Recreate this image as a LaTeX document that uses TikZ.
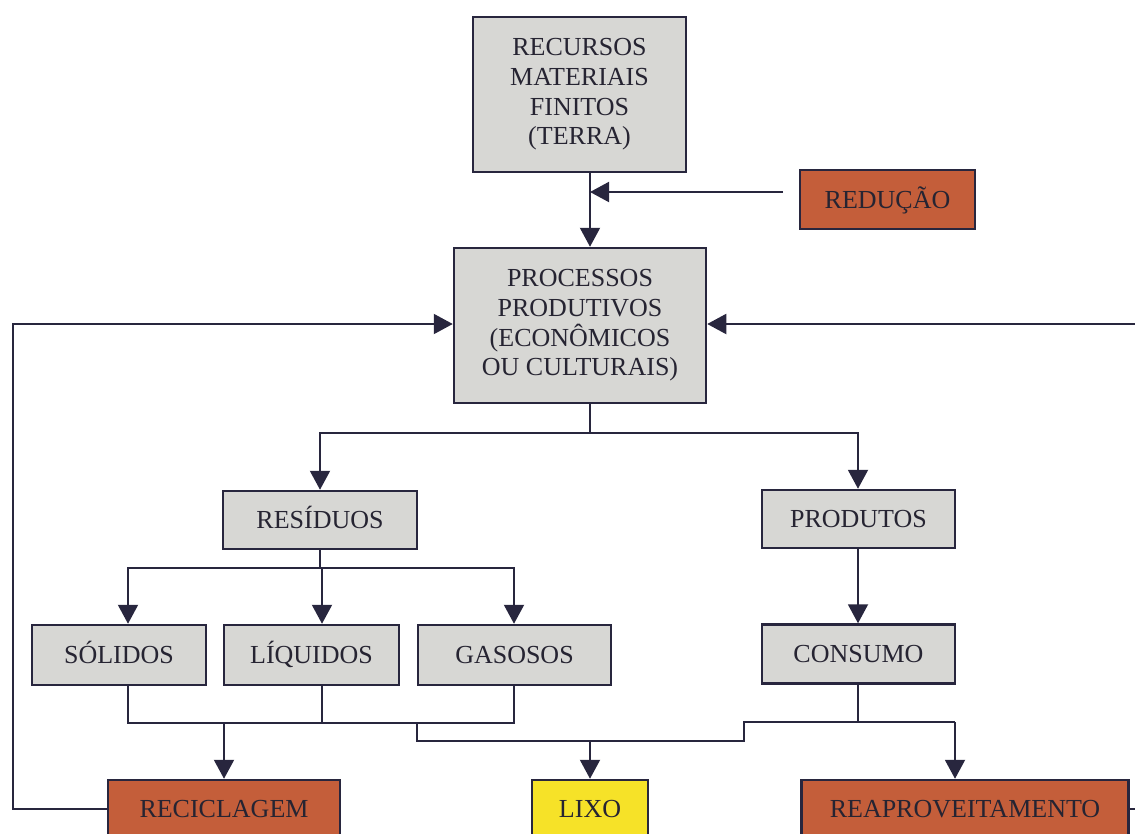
\documentclass[tikz,border=0pt]{standalone}
\usepackage{fontspec}
\setmainfont{Liberation Serif}
\usetikzlibrary{arrows.meta,calc}
\definecolor{boxgray}{RGB}{215,215,212}
\definecolor{boxorange}{RGB}{196,94,58}
\definecolor{boxyellow}{RGB}{246,226,40}
\definecolor{linecol}{RGB}{40,38,62}
\definecolor{txtcol}{RGB}{38,36,50}
\tikzset{
  base/.style={draw=linecol, line width=2.5pt, inner sep=0pt, align=center, text=txtcol, font=\fontsize{26}{30}\selectfont},
  oneline/.style={text height=20pt, text depth=3pt},
  graybox/.style={base, fill=boxgray, oneline},
  bigbox/.style={base, fill=boxgray, font=\fontsize{26}{29.7}\selectfont},
  orangebox/.style={base, fill=boxorange, oneline},
  yellowbox/.style={base, fill=boxyellow, oneline},
  conn/.style={draw=linecol, line width=2pt},
  arr/.style={conn, -{Triangle[length=19pt,width=20pt]}},
}
\begin{document}
\begin{tikzpicture}[x=1pt,y=-1pt]
\useasboundingbox (0,0) rectangle (1135,833);
\clip (0,0) rectangle (1135,833);
% boxes
\node[bigbox, minimum width=213pt, minimum height=155pt] (rec) at (579.5,94.5) {RECURSOS\\MATERIAIS\\FINITOS\\(TERRA)};
\node[orangebox, minimum width=175pt, minimum height=59pt] (red) at (887.5,199.5) {REDUÇÃO};
\node[bigbox, minimum width=252pt, minimum height=155pt] (proc) at (580,325.5) {PROCESSOS\\PRODUTIVOS\\(ECONÔMICOS\\OU CULTURAIS)};
\node[graybox, minimum width=194pt, minimum height=58pt] (res) at (320,520) {RESÍDUOS};
\node[graybox, minimum width=193pt, minimum height=58pt] (prod) at (858.5,519) {PRODUTOS};
\node[graybox, minimum width=174pt, minimum height=60pt] (sol) at (119,655) {SÓLIDOS};
\node[graybox, minimum width=175pt, minimum height=60pt] (liq) at (311.5,655) {LÍQUIDOS};
\node[graybox, minimum width=193pt, minimum height=60pt] (gas) at (514.5,655) {GASOSOS};
\node[graybox, minimum width=193pt, minimum height=59pt] (cons) at (858.5,654) {CONSUMO};
\node[orangebox, minimum width=232pt, minimum height=58pt] (recic) at (224,809) {RECICLAGEM};
\node[yellowbox, minimum width=116pt, minimum height=58pt] (lixo) at (590,809) {LIXO};
\node[orangebox, minimum width=327pt, minimum height=58pt] (reap) at (965,809) {REAPROVEITAMENTO};
% helper coordinates
\coordinate (cx) at (590,0);
\coordinate (redstart) at (783,192);
\coordinate (pbus) at (590,433);
\coordinate (rbus) at (320,568);
\coordinate (xsol) at (128,0);
\coordinate (xliq) at (322,0);
\coordinate (xgas) at (514,0);
\coordinate (x417) at (417,0);
\coordinate (x744) at (744,0);
\coordinate (xre) at (955,0);
\coordinate (xprod) at (858,0);
\coordinate (lb) at (0,723);
\coordinate (lowb) at (0,741);
\coordinate (rb) at (0,722);
\coordinate (fl) at (13,324);
\coordinate (fr) at (1150,324);
% connectors
\draw[arr] (rec.south -| cx) -- (proc.north -| cx);
\draw[arr] (redstart) -- (redstart -| cx);
\draw[conn] (proc.south -| cx) -- (pbus);
\draw[arr] (pbus) -| (res.north);
\draw[arr] (pbus) -| (prod.north -| xprod);
\draw[conn] (res.south) -- (rbus);
\draw[arr] (rbus) -| (sol.north -| xsol);
\draw[arr] (rbus) -| (liq.north -| xliq);
\draw[arr] (rbus) -| (gas.north -| xgas);
\draw[arr] (prod.south -| xprod) -- (cons.north -| xprod);
\draw[conn] (sol.south -| xsol) -- (xsol |- lb) -- (xgas |- lb) -- (gas.south -| xgas);
\draw[conn] (liq.south -| xliq) -- (xliq |- lb);
\draw[arr] (recic.north |- lb) -- (recic.north);
\draw[conn] (x417 |- lb) -- (x417 |- lowb) -- (x744 |- lowb) -- (x744 |- rb) -- (xre |- rb);
\draw[conn] (cons.south -| xprod) -- (xprod |- rb);
\draw[arr] (xre |- rb) -- (reap.north -| xre);
\draw[arr] (lixo.north |- lowb) -- (lixo.north);
\draw[arr] (recic.west) -| (fl) -- (fl -| proc.west);
\draw[arr] (reap.east) -| (fr) -- (fr -| proc.east);
\end{tikzpicture}
\end{document}
